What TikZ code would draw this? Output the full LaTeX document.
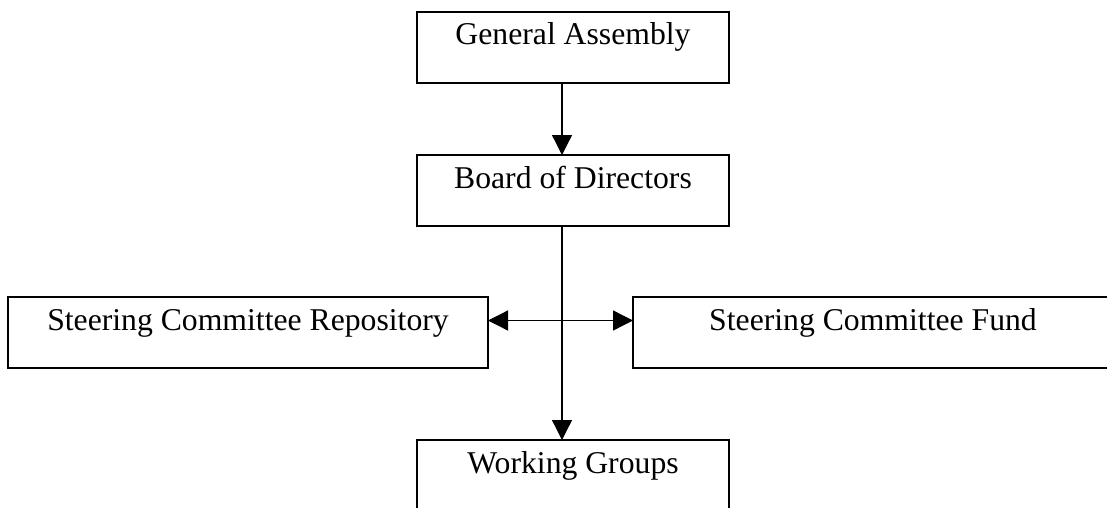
\documentclass[tikz,border=0pt]{standalone}
\usepackage{fontspec}
\setmainfont{Liberation Serif}
\usepackage{tikz}
\usetikzlibrary{arrows.meta}

\begin{document}
\begin{tikzpicture}[x=0.5pt,y=-0.5pt,
    >={Triangle[length=10pt,width=10pt]},
    unit/.style={draw, line width=0.75pt, anchor=north west, inner xsep=0pt, inner ysep=0pt,
      outer sep=0pt, text height=16.5pt, text depth=19pt,
      font=\fontsize{15.85}{19}\selectfont},
    small/.style={unit, minimum width=156pt},
    wide/.style={unit, minimum width=240pt},
    link/.style={line width=0.65pt}]
   \useasboundingbox (0,0) rectangle (1107,508);
   \clip (0,0) rectangle (1107,508);

   % top of the chart
   \node[small] (GA) at (417,12) {General Assembly};
   \node[small] (BoD) at (417,155) {Board of Directors};

   % steering committees
   \node[wide] (SCR) at (8,297) {Steering Committee Repository};
   \node[wide] (SCF) at (633,297) {Steering Committee Fund};

   % bottom
   \node[small] (WG) at (417,440) {Working Groups};

   \draw[link,->] ([xshift=-5.5pt]GA.south) -- ([xshift=-5.5pt]BoD.north);
   \draw[link,->] ([xshift=-5.5pt]BoD.south) -- ([xshift=-5.5pt]WG.north);
   \draw[link,<->] ([yshift=6pt]SCR.east) -- ([yshift=6pt]SCF.west);
\end{tikzpicture}
\end{document}
